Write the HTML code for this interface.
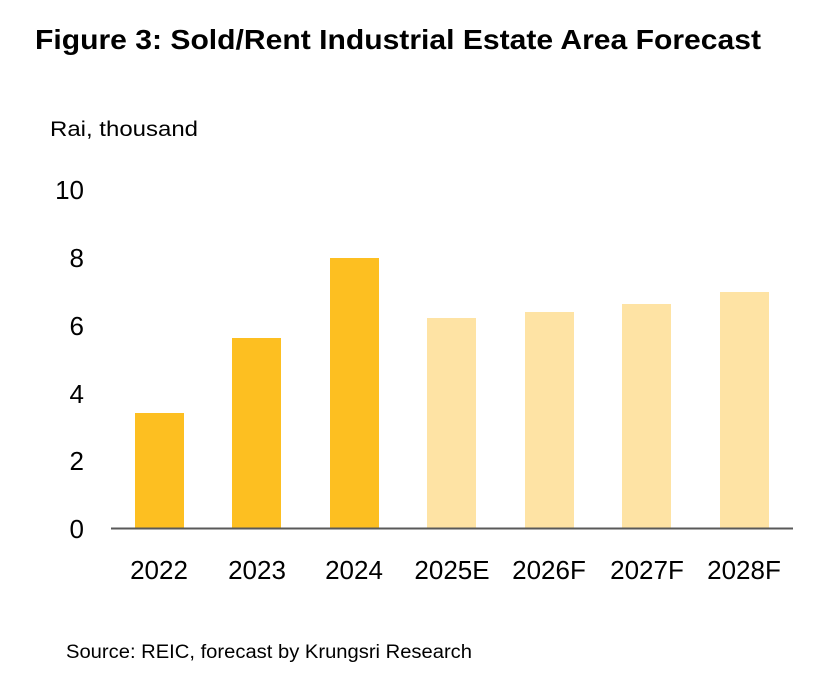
<!DOCTYPE html>
<html><head><meta charset="utf-8"><style>
html,body{margin:0;padding:0;background:#fff;}
svg{display:block;font-family:"Liberation Sans",sans-serif;}
</style></head><body>
<svg width="840" height="686" viewBox="0 0 840 686" xmlns="http://www.w3.org/2000/svg">
<text x="35" y="49" font-size="28" font-weight="bold" fill="#000" textLength="726" lengthAdjust="spacingAndGlyphs">Figure 3: Sold/Rent Industrial Estate Area Forecast</text>
<text x="50" y="136" font-size="21" fill="#000" textLength="148" lengthAdjust="spacingAndGlyphs">Rai, thousand</text>
<g font-size="26" fill="#000" text-anchor="end">
<text x="84" y="199">10</text>
<text x="84" y="267">8</text>
<text x="84" y="335">6</text>
<text x="84" y="403">4</text>
<text x="84" y="470">2</text>
<text x="84" y="538">0</text>
</g>
<g fill="#FDBF21">
<rect x="135" y="413" width="49" height="115"/>
<rect x="232" y="338" width="49" height="190"/>
<rect x="330" y="258" width="49" height="270"/>
</g>
<g fill="#FEE3A4">
<rect x="427" y="318" width="49" height="210"/>
<rect x="525" y="312" width="49" height="216"/>
<rect x="622" y="304" width="49" height="224"/>
<rect x="720" y="292" width="49" height="236"/>
</g>
<line x1="111" y1="528.5" x2="793" y2="528.5" stroke="#595959" stroke-width="2"/>
<g font-size="26" fill="#000" text-anchor="middle">
<text x="159" y="579">2022</text>
<text x="257" y="579">2023</text>
<text x="354" y="579">2024</text>
<text x="452" y="579">2025E</text>
<text x="549" y="579">2026F</text>
<text x="647" y="579">2027F</text>
<text x="744" y="579">2028F</text>
</g>
<text x="66" y="658" font-size="19" fill="#000" textLength="406" lengthAdjust="spacingAndGlyphs">Source: REIC, forecast by Krungsri Research</text>
</svg>
</body></html>
